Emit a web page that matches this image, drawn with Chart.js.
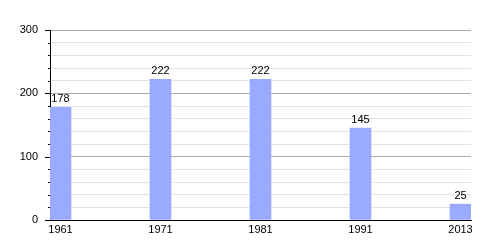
<!DOCTYPE html>
<html>
<head>
<meta charset="utf-8">
<script src="https://cdn.jsdelivr.net/npm/chart.js@4"></script>
<style>
  html, body { margin: 0; padding: 0; background: #fff; }
  #wrap { width: 500px; height: 250px; }
</style>
</head>
<body>
<div id="wrap"><canvas id="chart"></canvas></div>
<script>
  var years = ["1961", "1971", "1981", "1991", "2013"];
  var population = [178, 222, 222, 145, 25];
  var yMajorTicks = [0, 100, 200, 300];

  // value labels above each bar + tick marks on the y axis
  const barLabels = {
    id: "barLabels",
    afterDatasetsDraw(chart) {
      const c = chart.ctx;
      c.save();
      c.font = "11px 'Liberation Sans', Arial, sans-serif";
      c.fillStyle = "#000";
      c.textAlign = "center";
      c.textBaseline = "alphabetic";
      chart.getDatasetMeta(0).data.forEach((bar, i) => {
        c.fillText(population[i], bar.x, bar.y - 5);
      });
      const y = chart.scales.y;
      c.strokeStyle = "#000";
      c.lineWidth = 1;
      y.ticks.forEach(t => {
        const py = Math.round(y.getPixelForValue(t.value)) + 0.5;
        const len = yMajorTicks.includes(t.value) ? 5 : 2;
        c.beginPath();
        c.moveTo(y.right - len, py);
        c.lineTo(y.right, py);
        c.stroke();
      });
      c.restore();
    }
  };

  const ctx = document.getElementById("chart");
  new Chart(ctx, {
    type: "bar",
    data: {
      datasets: [
        {
          data: population.map((v, i) => ({ x: i, y: v })),
          backgroundColor: "#9aabff",
          borderWidth: 0,
          barThickness: 21,
        },
      ],
    },
    options: {
      responsive: true,
      maintainAspectRatio: false,
      animation: false,
      layout: { padding: { top: 30, right: 29, left: 0, bottom: 0 } },
      plugins: { legend: { display: false }, tooltip: { enabled: false } },
      scales: {
        x: {
          type: "linear",
          offset: false,
          min: -0.105,
          max: 4.105,
          afterBuildTicks: scale => {
            scale.ticks = years.map((y, i) => ({ value: i }));
          },
          afterFit: scale => { scale.height = 30; },
          grid: { display: false, drawTicks: false },
          border: { color: "#000", width: 1 },
          ticks: {
            padding: 3,
            color: "#000",
            maxRotation: 0,
            autoSkip: false,
            font: { family: "'Liberation Sans', Arial, sans-serif", size: 11 },
            callback: v => years[v],
          },
        },
        y: {
          min: 0,
          max: 300,
          afterFit: scale => { scale.width = 50; },
          grid: {
            drawTicks: false,
            color: c => (yMajorTicks.includes(c.tick.value) ? "#aaaaaa" : "#e3e3e3"),
          },
          border: { color: "#000", width: 1 },
          ticks: {
            stepSize: 20,
            autoSkip: false,
            padding: 12,
            color: "#000",
            font: { family: "'Liberation Sans', Arial, sans-serif", size: 11 },
            callback: v => (yMajorTicks.includes(v) ? v : ""),
          },
        },
      },
    },
    plugins: [barLabels],
  });
</script>
</body>
</html>
